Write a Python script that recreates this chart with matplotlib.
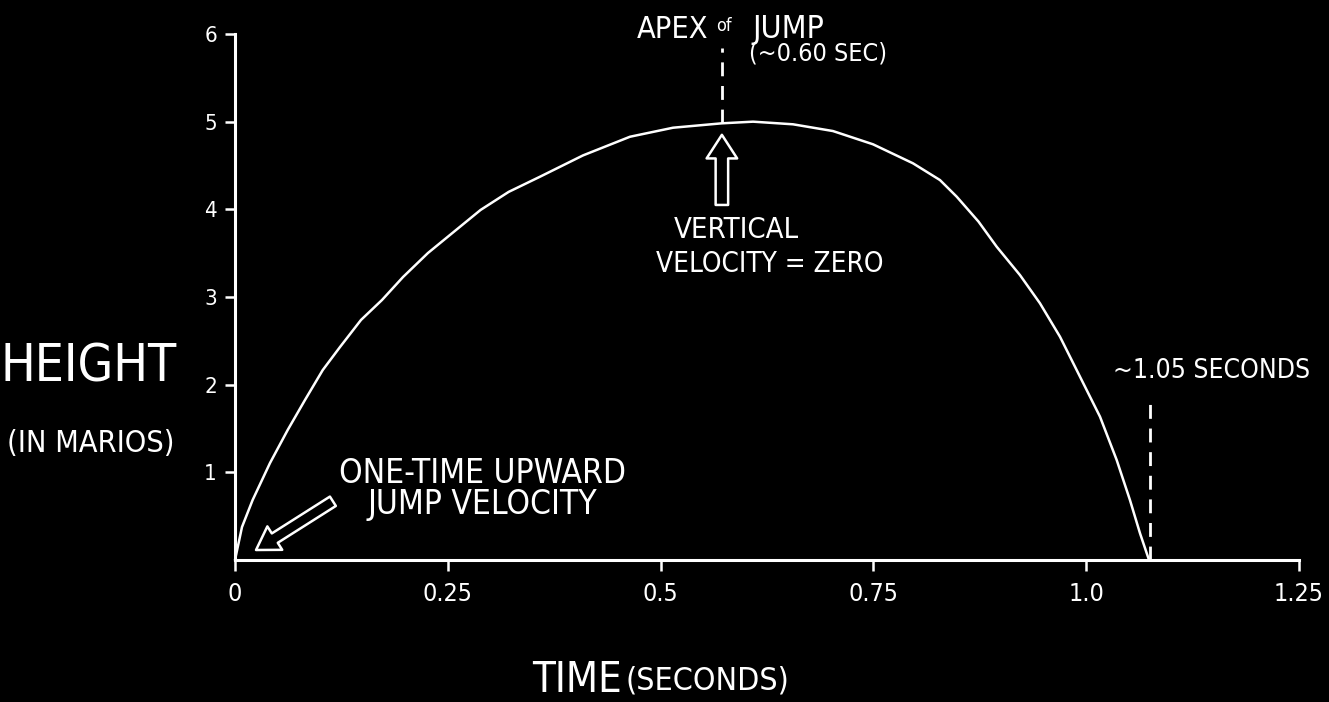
import matplotlib
matplotlib.use("Agg")
import matplotlib.pyplot as plt
from matplotlib import font_manager
from matplotlib.patches import FancyArrowPatch

# ---- data ----
time = [0.0, 0.0082, 0.0207, 0.0411, 0.0619, 0.0822, 0.1031, 0.1234, 0.148,
        0.1727, 0.1974, 0.2267, 0.2555, 0.2885, 0.3215, 0.3583, 0.4088, 0.464,
        0.5146, 0.5718, 0.6086, 0.6555, 0.7025, 0.7495, 0.7965, 0.8282, 0.8479,
        0.8735, 0.8948, 0.9222, 0.9457, 0.9692, 0.9927, 1.0162, 1.0358, 1.0514,
        1.0632, 1.0738]
height = [0.0, 0.376, 0.684, 1.106, 1.483, 1.825, 2.167, 2.43, 2.738,
          2.966, 3.228, 3.502, 3.731, 3.993, 4.199, 4.372, 4.615, 4.828,
          4.931, 4.981, 5.0, 4.97, 4.893, 4.742, 4.525, 4.334, 4.144,
          3.86, 3.574, 3.25, 2.928, 2.547, 2.091, 1.635, 1.141, 0.684,
          0.305, 0.0]

x_ticks = [0, 0.25, 0.5, 0.75, 1.0, 1.25]
x_tick_labels = ["0", "0.25", "0.5", "0.75", "1.0", "1.25"]
y_ticks = [1, 2, 3, 4, 5, 6]
y_tick_labels = ["1", "2", "3", "4", "5", "6"]

apex_time = 0.572
apex_height = 4.98
land_time = 1.075

# ---- font ----
names = {f.name for f in font_manager.fontManager.ttflist}
if "Liberation Sans Narrow" in names:
    FONT = ["Liberation Sans Narrow", "DejaVu Sans"]
    STRETCH = "normal"
else:
    FONT = ["DejaVu Sans"]
    STRETCH = "condensed"
plt.rcParams["font.family"] = FONT

W = "white"
fig = plt.figure(figsize=(13.29, 7.02), dpi=100, facecolor="black")
ax = fig.add_axes([235 / 1329, 1 - 560 / 702, (1299 - 235) / 1329, (560 - 34) / 702])
ax.set_facecolor("black")
ax.set_xlim(0, 1.25)
ax.set_ylim(0, 6)

for s in ["top", "right"]:
    ax.spines[s].set_visible(False)
for s in ["left", "bottom"]:
    ax.spines[s].set_color(W)
    ax.spines[s].set_linewidth(2.2)

ax.set_xticks(x_ticks)
ax.set_xticklabels(x_tick_labels)
ax.set_yticks(y_ticks)
ax.set_yticklabels(y_tick_labels)
ax.tick_params(axis="x", colors=W, length=8, width=1.8, pad=8, labelsize=18)
ax.tick_params(axis="y", colors=W, length=7, width=1.8, pad=6, labelsize=16)
for lab in ax.get_xticklabels() + ax.get_yticklabels():
    lab.set_fontstretch(STRETCH)

# curve
ax.plot(time, height, color=W, lw=1.8, solid_joinstyle="round",
        solid_capstyle="round", clip_on=False)

# dashed markers
ax.plot([apex_time, apex_time], [apex_height, 5.84], color=W, lw=2, dashes=(5, 3.5))
ax.plot([land_time, land_time], [0, 1.88], color=W, lw=2, dashes=(5, 3.5))

# hollow arrows
up = FancyArrowPatch((apex_time, 4.05), (apex_time, 4.85),
                     arrowstyle="simple,head_width=22,head_length=17,tail_width=9",
                     mutation_scale=1, facecolor="black", edgecolor=W, lw=1.8,
                     shrinkA=0, shrinkB=0)
ax.add_patch(up)
diag = FancyArrowPatch((0.115, 0.67), (0.0247, 0.114),
                       arrowstyle="simple,head_width=20,head_length=16,tail_width=8",
                       mutation_scale=1, facecolor="black", edgecolor=W, lw=1.8,
                       shrinkA=0, shrinkB=0)
ax.add_patch(diag)

kw = dict(color=W, fontstretch=STRETCH, transform=fig.transFigure)

def T(x, y, s, size, ha="left", va="baseline"):
    fig.text(x / 1329, 1 - y / 702, s, fontsize=size, ha=ha, va=va, **kw)

# axis titles
T(89, 382, "HEIGHT", 37, ha="center")
T(91, 452, "(IN MARIOS)", 22, ha="center")
T(622, 692, "TIME", 30, ha="right")
T(625, 690, "(SECONDS)", 23, ha="left")

# annotations
T(637, 38, "APEX", 22)
T(716, 31, "of", 13)
T(752, 38, "JUMP", 23)
T(818, 61, "(~0.60 SEC)", 18, ha="center")
T(736, 238, "VERTICAL", 21, ha="center")
T(770, 272, "VELOCITY = ZERO", 20, ha="center")
T(483, 483, "ONE-TIME UPWARD", 24, ha="center")
T(482, 514, "JUMP VELOCITY", 24, ha="center")
T(1212, 378, "~1.05 SECONDS", 19, ha="center")

fig.savefig("out.png", dpi=100, facecolor="black")
